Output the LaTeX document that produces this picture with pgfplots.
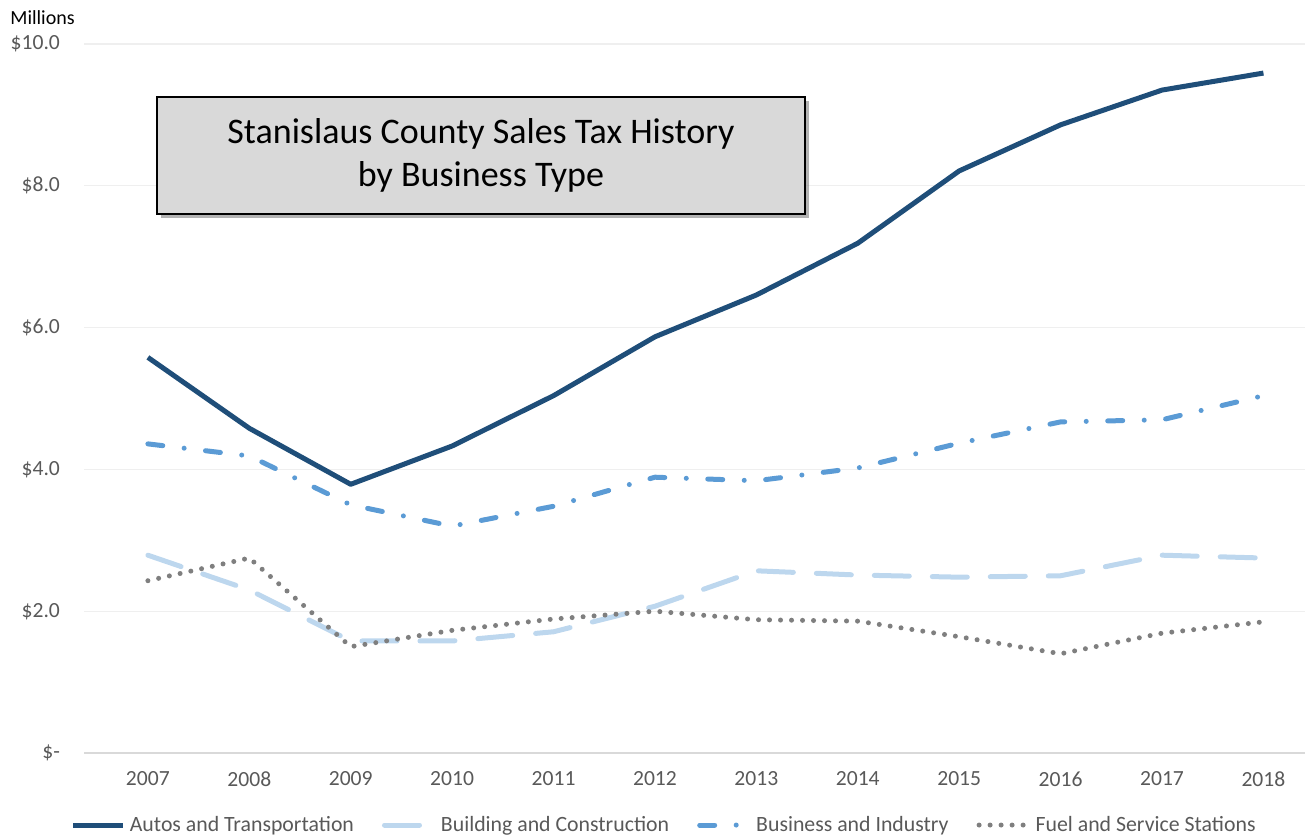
\documentclass[border=0pt]{standalone}
\usepackage{pgfplots}
\pgfplotsset{compat=1.18}
\usepackage{fontspec}
\setmainfont{Carlito}
\usetikzlibrary{shadows}
\definecolor{autos}{HTML}{1F4E79}
\definecolor{build}{HTML}{BDD7EE}
\definecolor{busin}{HTML}{5B9BD5}
\definecolor{fuel}{HTML}{7F7F7F}
\definecolor{gridc}{HTML}{EFEFEF}
\definecolor{axisc}{HTML}{D9D9D9}
\definecolor{labelc}{HTML}{595959}
\definecolor{titlefill}{HTML}{D9D9D9}

\begin{document}
\begin{tikzpicture}
\useasboundingbox (0,0) rectangle (654.5pt,418.5pt);
\begin{axis}[
    at={(42pt,42pt)}, anchor=south west,
    scale only axis, width=610.5pt, height=354.5pt,
    xmin=2006.37, xmax=2018.41, ymin=0, ymax=10,
    xtick={2007,2008,2009,2010,2011,2012,2013,2014,2015,2016,2017,2018},
    xticklabels={2007,2008,2009,2010,2011,2012,2013,2014,2015,2016,2017,2018},
    ytick={0,2,4,6,8,10},
    yticklabels={\$-\hspace{5.5pt},\$2.0,\$4.0,\$6.0,\$8.0,\$10.0},
    ymajorgrids,
    grid style={draw=gridc, line width=0.6pt},
    axis x line*=bottom, axis y line*=left,
    x axis line style={draw=axisc, line width=0.75pt, -},
    y axis line style={draw=none},
    major tick length=0pt,
    tick label style={font=\fontsize{10.8}{12}\selectfont, text=labelc},
    yticklabel style={anchor=east, xshift=-8.5pt},
    xticklabel style={yshift=-5.7pt},
    legend style={at={(0.476,-0.1016)}, anchor=center, draw=none, fill=none,
        legend columns=4, font=\fontsize{10.9}{12}\selectfont, text=labelc,
        /tikz/every even column/.append style={column sep=12pt}},
    legend image code/.code={\draw[#1] (0pt,0pt) -- (25pt,0pt);},
    line join=round,
]
\addplot[autos, line width=2.5pt] coordinates {
(2007,5.58) (2008,4.58) (2009,3.79) (2010,4.33) (2011,5.04) (2012,5.87)
(2013,6.46) (2014,7.19) (2015,8.21) (2016,8.86) (2017,9.35) (2018,9.59)};
\addlegendentry{Autos and Transportation}
\addplot[build, line width=2.5pt, line cap=round, dash pattern=on 17.5pt off 11.5pt] coordinates {
(2007,2.79) (2008,2.30) (2009,1.58) (2010,1.58) (2011,1.71) (2012,2.07)
(2013,2.57) (2014,2.51) (2015,2.48) (2016,2.50) (2017,2.79) (2018,2.75)};
\addlegendentry{Building and Construction}
\addplot[busin, line width=2.5pt, line cap=round, dash pattern=on 7.5pt off 10.75pt on 0pt off 10.75pt] coordinates {
(2007,4.36) (2008,4.19) (2009,3.50) (2010,3.20) (2011,3.48) (2012,3.89)
(2013,3.84) (2014,4.02) (2015,4.37) (2016,4.67) (2017,4.70) (2018,5.04)};
\addlegendentry{Business and Industry}
\addplot[fuel, line width=2.5pt, line cap=round, dash pattern=on 0pt off 5.5pt] coordinates {
(2007,2.43) (2008,2.75) (2009,1.50) (2010,1.73) (2011,1.89) (2012,2.00)
(2013,1.88) (2014,1.86) (2015,1.64) (2016,1.40) (2017,1.69) (2018,1.85)};
\addlegendentry{Fuel and Service Stations}
\end{axis}
\node[anchor=west, inner sep=0pt, font=\fontsize{10}{12}\selectfont] at (5pt,409.5pt) {Millions};
\node[draw=black, line width=1pt, fill=titlefill,
      drop shadow={shadow xshift=2pt, shadow yshift=-2pt, opacity=0.6},
      minimum width=324pt, minimum height=58.5pt, align=center,
      font=\fontsize{18}{21.5}\selectfont] at (240.5pt,340.75pt)
      {Stanislaus County Sales Tax History\\by Business Type};
\end{tikzpicture}
\end{document}
